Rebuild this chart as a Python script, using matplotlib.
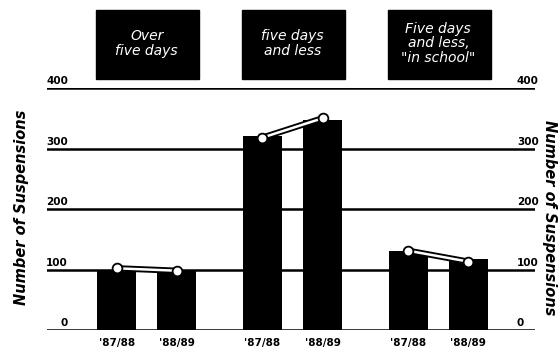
import matplotlib.pyplot as plt
from matplotlib.patches import Rectangle
from matplotlib.transforms import blended_transform_factory

# Suspensions per school year, three categories
groups = ["Over\nfive days", "five days\nand less", "Five days\nand less,\n\"in school\""]
years = ["'87/88", "'88/89"]
bar_values = [[100, 99], [320, 347], [130, 117]]
marker_values = [[102, 98], [318, 350], [131, 113]]
yticks = [0, 100, 200, 300, 400]

group_centers = [1.66, 4.09, 6.52]
half_gap = 0.5
bar_w = 0.66

fig = plt.figure(figsize=(5.58, 3.48), dpi=100)
ax = fig.add_axes([47 / 558, 18 / 348, 488 / 558, 242 / 348])
ax.set_xlim(0, 8.13)
ax.set_ylim(0, 400)
for s in ax.spines.values():
    s.set_visible(False)
ax.set_yticks([])

# gridlines sit behind the bars
for v in yticks:
    ax.axhline(v, color="black", lw=1.8, zorder=1)

xt = []
xl = []
for c, vals, mvals, title in zip(group_centers, bar_values, marker_values, groups):
    xs = [c - half_gap, c + half_gap]
    ax.bar(xs, vals, width=bar_w, color="black", zorder=2)
    ax.plot(xs, mvals, color="black", lw=4.5, zorder=3, solid_capstyle="butt")
    ax.plot(xs, mvals, color="white", lw=1.8, zorder=4)
    ax.plot(xs, mvals, "o", ms=7, mfc="white", mec="black", mew=1.3, zorder=5)
    xt += xs
    xl += years

    # black title box above each group
    ax.add_patch(Rectangle((c - 0.84, 415), 1.72, 114, color="black",
                           clip_on=False, zorder=2))
    ax.text(c, 474, title, color="white", ha="center", va="center",
            fontsize=10, style="italic", linespacing=1.05, zorder=3)

ax.set_xticks(xt)
ax.set_xticklabels(xl, fontsize=7.5, fontweight="bold")
ax.tick_params(axis="x", length=0, pad=6)

# value labels sit just above the line ends on both sides
tr = blended_transform_factory(ax.transAxes, ax.transData)
for v in yticks:
    ax.text(0.043, v + 3, str(v), transform=tr, ha="right", va="bottom",
            fontsize=7.5, fontweight="bold")
    ax.text(0.963, v + 3, str(v), transform=tr, ha="left", va="bottom",
            fontsize=7.5, fontweight="bold")

fig.text(21.5 / 558, 1 - 207 / 348, "Number of Suspensions", rotation=90,
         ha="center", va="center", fontsize=10.5, fontweight="bold", style="italic")
fig.text(549 / 558, 1 - 218 / 348, "Number of Suspensions", rotation=270,
         ha="center", va="center", fontsize=10.5, fontweight="bold", style="italic")

fig.savefig("out.png", dpi=100)
